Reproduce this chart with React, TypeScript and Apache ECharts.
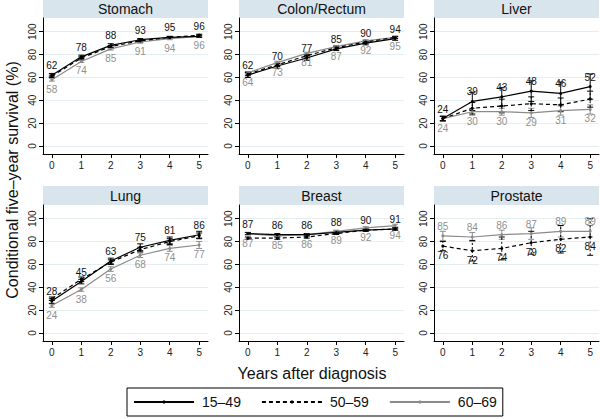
import React, { useEffect, useRef } from "react";
import * as echarts from "echarts";

const years = [0, 1, 2, 3, 4, 5];
const sites = ["Stomach", "Colon/Rectum", "Liver", "Lung", "Breast", "Prostate"];
const groups = ["15–49", "50–59", "60–69"];
const yTicks = [0, 20, 40, 60, 80, 100];

// Stomach
const stomach15 = [62, 78, 88, 93, 95, 96];
const stomach50 = [61, 77, 87, 92, 95, 97];
const stomach60 = [58, 74, 85, 91, 94, 96];
const stomach15Err = [1.5, 1.5, 1.5, 1, 1, 1];
const stomach50Err = [1, 1, 1, 1, 0.8, 0.8];
const stomach60Err = [1.2, 1, 1, 1, 1, 1];
// Colon/Rectum
const colon15 = [62, 70, 77, 85, 90, 94];
const colon50 = [63, 71, 79, 86, 91, 95];
const colon60 = [64, 73, 81, 87, 92, 95];
const colon15Err = [2, 2, 2, 1.5, 1.5, 1.5];
const colon50Err = [1.5, 1.5, 1.2, 1.2, 1, 1];
const colon60Err = [1.2, 1.2, 1, 1, 1, 1];
// Liver
const liver15 = [24, 39, 43, 48, 46, 52];
const liver50 = [24, 33, 35, 37, 36, 41];
const liver60 = [24, 30, 30, 29, 31, 32];
const liver15Err = [2, 8, 8, 9, 10, 11];
const liver50Err = [2, 5, 6, 6, 6, 7];
const liver60Err = [2, 3, 3, 4, 4, 4];
// Lung
const lung15 = [28, 45, 63, 75, 81, 86];
const lung50 = [30, 47, 62, 73, 80, 85];
const lung60 = [24, 38, 56, 68, 74, 77];
const lung15Err = [2, 2, 2.5, 3, 3, 3];
const lung50Err = [1.5, 2, 2, 2, 2.5, 2.5];
const lung60Err = [1.5, 1.5, 2, 2, 2.5, 3];
// Breast
const breast15 = [87, 86, 86, 88, 90, 91];
const breast50 = [83, 83, 84, 87, 90, 91];
const breast60 = [87, 85, 86, 89, 92, 94];
const breast15Err = [1, 1, 1, 1, 1, 1];
const breast50Err = [1, 1, 1, 0.8, 0.8, 0.8];
const breast60Err = [1, 1, 1, 1, 1, 1.2];
// Prostate (no 15–49 group)
const prostate15: number[] = [];
const prostate50 = [76, 72, 74, 79, 82, 84];
const prostate60 = [85, 84, 86, 87, 89, 89];
const prostate15Err: number[] = [];
const prostate50Err = [4, 9, 10, 10, 12, 16];
const prostate60Err = [4, 4, 4, 5, 5, 5];

const values = [
  [stomach15, stomach50, stomach60],
  [colon15, colon50, colon60],
  [liver15, liver50, liver60],
  [lung15, lung50, lung60],
  [breast15, breast50, breast60],
  [prostate15, prostate50, prostate60],
];
const errors = [
  [stomach15Err, stomach50Err, stomach60Err],
  [colon15Err, colon50Err, colon60Err],
  [liver15Err, liver50Err, liver60Err],
  [lung15Err, lung50Err, lung60Err],
  [breast15Err, breast50Err, breast60Err],
  [prostate15Err, prostate50Err, prostate60Err],
];

const FONT = "Liberation Sans, Arial, Helvetica, sans-serif";
const GRAY = "#8a8a8a";
const colors = ["#000000", "#000000", GRAY];
const lineTypes = ["solid", "dashed", "solid"];
const lefts = [43, 239, 434];
const tops = [18, 205];
const W = 165;
const H = 136;
const headerH = [18, 19];

export default function App() {
  const ref = useRef<HTMLDivElement>(null);
  useEffect(() => {
    if (!ref.current) return;
    const chart = echarts.init(ref.current, null, { renderer: "svg" });
    const grids: any[] = [];
    const xAxes: any[] = [];
    const yAxes: any[] = [];
    const lineSeries: any[] = [];
    const errSeries: any[] = [];
    const graphics: any[] = [];

    sites.forEach((site, i) => {
      const row = Math.floor(i / 3);
      const col = i % 3;
      const left = lefts[col];
      const top = tops[row];
      grids.push({ left, top, width: W, height: H });
      xAxes.push({
        type: "value",
        gridIndex: i,
        min: -0.3,
        max: 5.3,
        axisLine: { show: true, onZero: false, lineStyle: { color: "#000", width: 1 } },
        axisTick: { show: true, customValues: years, length: 4, lineStyle: { color: "#000" } },
        axisLabel: { customValues: years, fontSize: 10, color: "#222", fontFamily: FONT, margin: 6 },
        splitLine: { show: false },
      });
      yAxes.push({
        type: "value",
        gridIndex: i,
        min: -7,
        max: 112,
        axisLine: { show: true, onZero: false, lineStyle: { color: "#000", width: 1 } },
        axisTick: { show: true, customValues: yTicks, length: 4, lineStyle: { color: "#000" } },
        axisLabel: {
          customValues: yTicks,
          fontSize: 10,
          color: "#222",
          fontFamily: FONT,
          rotate: 90,
          margin: 6,
        },
        splitLine: { show: true, lineStyle: { color: "#e3eef1", width: 1 } },
      });
      graphics.push({
        type: "rect",
        shape: { x: left, y: top - headerH[row], width: W, height: headerH[row] },
        style: { fill: "#d8e5ed" },
        silent: true,
      });
      graphics.push({
        type: "text",
        x: left + W / 2,
        y: top - headerH[row] / 2,
        style: {
          text: site,
          fontSize: 14,
          fontWeight: "normal",
          fontFamily: FONT,
          fill: "#111",
          align: "center",
          verticalAlign: "middle",
        },
        silent: true,
      });

      // draw order: gray, dashed, black
      [2, 1, 0].forEach((g) => {
        const vals = values[i][g];
        if (!vals.length) return;
        const errs = errors[i][g];
        const color = colors[g];
        const dashed = lineTypes[g] === "dashed";
        errSeries.push({
          type: "custom",
          name: groups[g] + " CI",
          xAxisIndex: i,
          yAxisIndex: i,
          z: 2,
          data: years.map((x, k) => [x, vals[k] - errs[k], vals[k] + errs[k]]),
          renderItem: (params: any, api: any) => {
            const x = api.value(0);
            const p1 = api.coord([x, api.value(1)]);
            const p2 = api.coord([x, api.value(2)]);
            const st = { stroke: color, lineWidth: 1, lineDash: dashed ? [2, 2] : null };
            const cw = 3;
            return {
              type: "group",
              children: [
                { type: "line", shape: { x1: p1[0], y1: p1[1], x2: p2[0], y2: p2[1] }, style: st },
                { type: "line", shape: { x1: p1[0] - cw, y1: p1[1], x2: p1[0] + cw, y2: p1[1] }, style: { stroke: color, lineWidth: 1 } },
                { type: "line", shape: { x1: p2[0] - cw, y1: p2[1], x2: p2[0] + cw, y2: p2[1] }, style: { stroke: color, lineWidth: 1 } },
              ],
            };
          },
        });
      });
      [2, 1, 0].forEach((g) => {
        const vals = values[i][g];
        if (!vals.length) return;
        const color = colors[g];
        const isProstate = site === "Prostate";
        let label: any = { show: false };
        if (g === 0) {
          label = { show: true, position: "top", distance: 3, fontSize: 10, color: "#111", fontFamily: FONT };
        } else if (g === 2) {
          label = {
            show: true,
            position: isProstate ? "top" : "bottom",
            distance: 3,
            fontSize: 10,
            color: "#8f8f8f",
            fontFamily: FONT,
          };
        } else if (isProstate) {
          label = { show: true, position: "bottom", distance: 3, fontSize: 10, color: "#111", fontFamily: FONT };
        }
        lineSeries.push({
          type: "line",
          name: groups[g],
          xAxisIndex: i,
          yAxisIndex: i,
          z: 3 + (2 - g),
          data: years.map((x, k) => [x, vals[k]]),
          symbol: "circle",
          symbolSize: 3,
          showSymbol: true,
          itemStyle: { color },
          lineStyle: { color, width: 1.2, type: lineTypes[g] === "dashed" ? [4, 3] : "solid" },
          label: { ...label, formatter: (p: any) => String(p.value[1]) },
          emphasis: { disabled: true },
        });
      });
    });

    graphics.push({
      type: "text",
      x: 12,
      y: 180,
      rotation: Math.PI / 2,
      style: {
        text: "Conditional five–year survival (%)",
        fontSize: 16,
        fontFamily: FONT,
        fill: "#111",
        align: "center",
        verticalAlign: "middle",
      },
      silent: true,
    });
    graphics.push({
      type: "text",
      x: 312,
      y: 373,
      style: {
        text: "Years after diagnosis",
        fontSize: 16,
        fontFamily: FONT,
        fill: "#111",
        align: "center",
        verticalAlign: "middle",
      },
      silent: true,
    });

    chart.setOption({
      animation: false,
      grid: grids,
      xAxis: xAxes,
      yAxis: yAxes,
      series: [...lineSeries, ...errSeries],
      graphic: graphics,
      legend: {
        data: groups,
        left: 127,
        top: 388,
        orient: "horizontal",
        itemWidth: 60,
        itemHeight: 4,
        itemGap: 20,
        padding: [7, 6, 7, 6],
        borderColor: "#000",
        borderWidth: 1,
        selectedMode: false,
        textStyle: { fontSize: 14, fontFamily: FONT, color: "#111", padding: [0, 0, 0, 3] },
      },
    });
    return () => chart.dispose();
  }, []);
  return (
    <div
      ref={ref}
      style={{ position: "fixed", left: 0, top: 0, width: 600, height: 419, background: "#fff" }}
    />
  );
}
